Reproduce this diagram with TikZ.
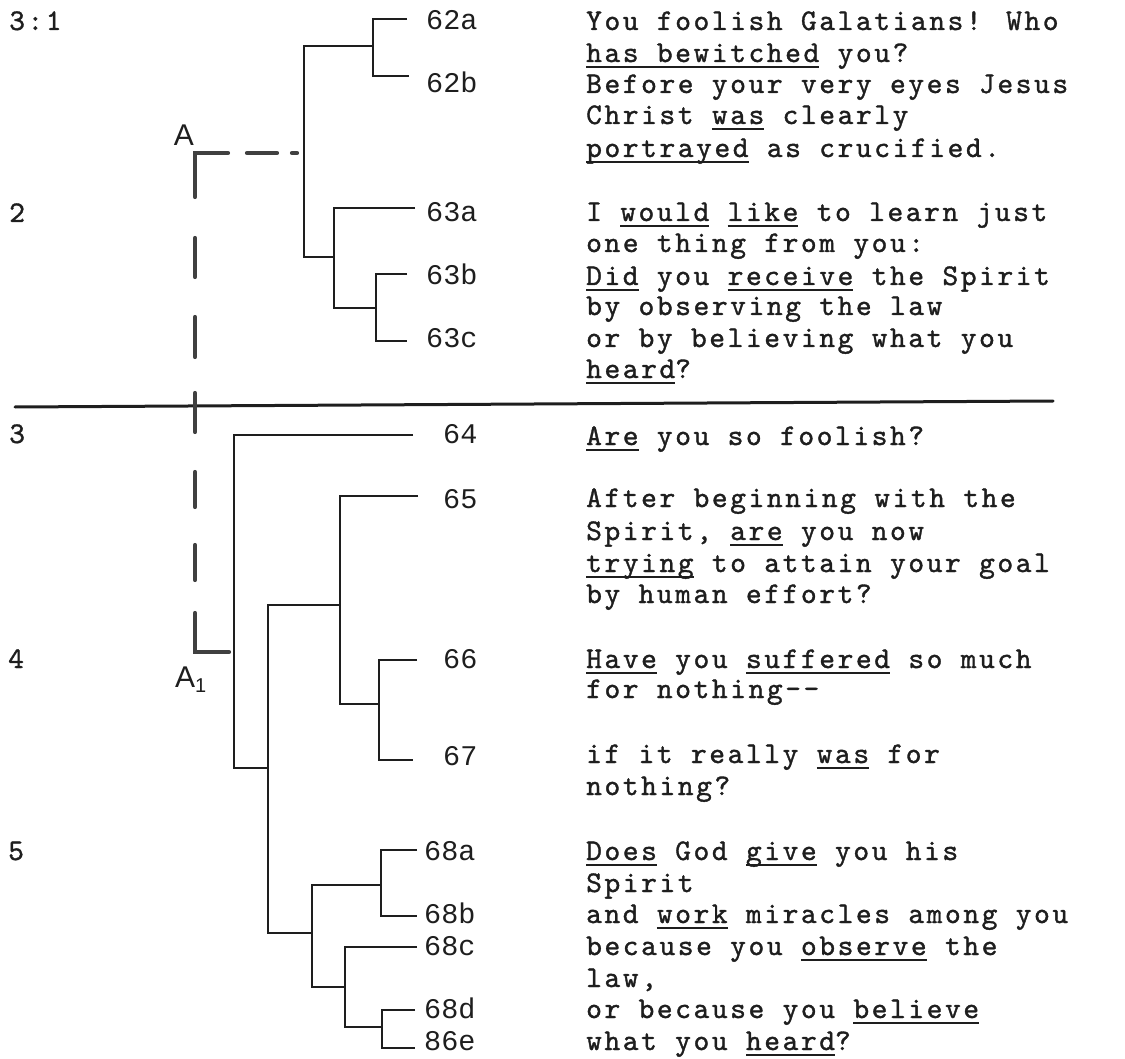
\documentclass[tikz,border=0pt]{standalone}
\usepackage{fontspec}
\newfontfamily\twfont{lmmono10-regular}[Extension=.otf, LetterSpace=8.6, FakeBold=1.2]
\newfontfamily\numfont{Liberation Mono}
\newfontfamily\handfont{Liberation Sans}
\definecolor{ink}{HTML}{1E1E1E}
\newcommand\myul[1]{\setbox0\hbox{#1}\rlap{\rule[-6pt]{\wd0}{1.6pt}}\box0\relax}
\begin{document}
\begin{tikzpicture}[x=1pt,y=-1pt,
  tree/.style={line width=1.8pt, draw=ink},
  thickbar/.style={line width=4.2pt, draw=ink!85, line cap=round, line join=miter},
  txt/.style={anchor=base west, inner sep=0pt, font=\twfont\fontsize{30}{31.7}\selectfont, text=ink},
  num/.style={anchor=base west, inner sep=0pt, font=\numfont\fontsize{28.5}{30}\selectfont, text=ink},
  hand/.style={inner sep=0pt, font=\handfont\fontsize{30}{31}\selectfont, text=ink}]
\useasboundingbox (0,0) rectangle (1125,1059);

% verse numbers
\node[txt] (v31) at (9,30) {3:1};
\node[txt] (v2) at (9,222) {2};
\node[txt] (v3) at (9,443) {3};
\node[txt] (v4) at (8,668) {4};
\node[txt] (v5) at (8,860) {5};

% text lines
\node[txt] (t1) at (586,30) {You foolish Galatians! Who};
\node[txt] (t2) at (586,62) {\myul{has bewitched} you?};
\node[txt] (t3) at (586,93) {Before your very eyes Jesus};
\node[txt] (t4) at (586,124) {Christ \myul{was} clearly};
\node[txt] (t5) at (586,157) {\myul{portrayed} as crucified.};
\node[txt] (t6) at (586,221) {I \myul{would} \myul{like} to learn just};
\node[txt] (t7) at (586,252) {one thing from you:};
\node[txt] (t8) at (586,285) {\myul{Did} you \myul{receive} the Spirit};
\node[txt] (t9) at (586,315) {by observing the law};
\node[txt] (t10) at (586,347) {or by believing what you};
\node[txt] (t11) at (586,378) {\myul{heard}?};
\node[txt] (t12) at (586,445) {\myul{Are} you so foolish?};
\node[txt] (t13) at (586,507) {After beginning with the};
\node[txt] (t14) at (586,540) {Spirit, \myul{are} you now};
\node[txt] (t15) at (586,572) {\myul{trying} to attain your goal};
\node[txt] (t16) at (586,603) {by human effort?};
\node[txt] (t17) at (586,668) {\myul{Have} you \myul{suffered} so much};
\node[txt] (t18) at (586,698) {for nothing-{}-};
\node[txt] (t19) at (586,763) {if it really \myul{was} for};
\node[txt] (t20) at (586,795) {nothing?};
\node[txt] (t21) at (586,860) {\myul{Does} God \myul{give} you his};
\node[txt] (t22) at (586,892) {Spirit};
\node[txt] (t23) at (586,923) {and \myul{work} miracles among you};
\node[txt] (t24) at (586,955) {because you \myul{observe} the};
\node[txt] (t25) at (586,987) {law,};
\node[txt] (t26) at (586,1018) {or because you \myul{believe}};
\node[txt] (t27) at (586,1050) {what you \myul{heard}?};

% leaf numbers
\node[num] (n62a) at (426,30) {62a};
\node[num] (n62b) at (426,93) {62b};
\node[num] (n63a) at (426,222) {63a};
\node[num] (n63b) at (426,285) {63b};
\node[num] (n63c) at (426,348) {63c};
\node[num] (n64) at (443,443) {64};
\node[num] (n65) at (443,508) {65};
\node[num] (n66) at (443,668) {66};
\node[num] (n67) at (443,765) {67};
\node[num] (n68a) at (424,860) {68a};
\node[num] (n68b) at (424,923) {68b};
\node[num] (n68c) at (424,955) {68c};
\node[num] (n68d) at (424,1018) {68d};
\node[num] (n86e) at (424,1050) {86e};

% leaf ends
\coordinate (e62a) at (407,19);
\coordinate (e62b) at (409,76);
\coordinate (e63a) at (415,208);
\coordinate (e63b) at (407,274);
\coordinate (e63c) at (407,341);
\coordinate (e64) at (413,435);
\coordinate (e65) at (418,496);
\coordinate (e66) at (417,660);
\coordinate (e67) at (413,760);
\coordinate (e68a) at (417,850);
\coordinate (e68b) at (417,916);
\coordinate (e68c) at (417,947);
\coordinate (e68d) at (415,1010);
\coordinate (e86e) at (415,1048);

% junctions, upper tree
\coordinate (k1) at (373,46);
\coordinate (r1) at (304,257);
\coordinate (k2) at (334,257);
\coordinate (k3) at (376,308);
\draw[tree] (e62a) -| (k1) |- (e62b);
\draw[tree] (k1) -| (r1) -- (k2);
\draw[tree] (e63a) -| (k2) |- (k3);
\draw[tree] (e63b) -| (k3) |- (e63c);

% junctions, lower tree
\coordinate (m1) at (234,768);
\coordinate (m2) at (268,768);
\coordinate (k65) at (340,605);
\coordinate (k66) at (379,704);
\coordinate (k68) at (312,933);
\coordinate (k68a) at (381,885);
\coordinate (k68c) at (345,987);
\coordinate (k68d) at (382,1027);
\draw[tree] (e64) -| (m1) -- (m2);
\draw[tree] (k65) -| (m2) |- (k68);
\draw[tree] (e65) -| (k65) |- (k66);
\draw[tree] (e66) -| (k66) |- (e67);
\draw[tree] (k68a) -| (k68) |- (k68c);
\draw[tree] (e68a) -| (k68a) |- (e68b);
\draw[tree] (e68c) -| (k68c) |- (k68d);
\draw[tree] (e68d) -| (k68d) |- (e86e);

% section rule
\coordinate (rl) at (15,407);
\coordinate (rr) at (1053,401);
\draw[line width=3pt, draw=ink, line cap=round] (rl) -- (rr);

% A ... A1 bracket
\node[hand] (A) at (184,135) {A};
\node[hand, anchor=west] (A1) at (175,680) {A\raisebox{-5pt}{\fontsize{20}{20}\selectfont 1}};
\coordinate (Ac) at (195,153);
\coordinate (A1c) at (195,652);
\draw[thickbar] (228,153) -- (Ac) -- (195,197);
\draw[thickbar] (247,153) -- (277,153);
\draw[thickbar] (292,153) -- (297,153);
\draw[thickbar] (195,238) -- (195,277);
\draw[thickbar] (195,317) -- (195,357);
\draw[thickbar] (195,393) -- (195,432);
\draw[thickbar] (195,472) -- (195,507);
\draw[thickbar] (195,545) -- (195,580);
\draw[thickbar] (195,613) -- (A1c) -- (229,652);
\end{tikzpicture}
\end{document}
